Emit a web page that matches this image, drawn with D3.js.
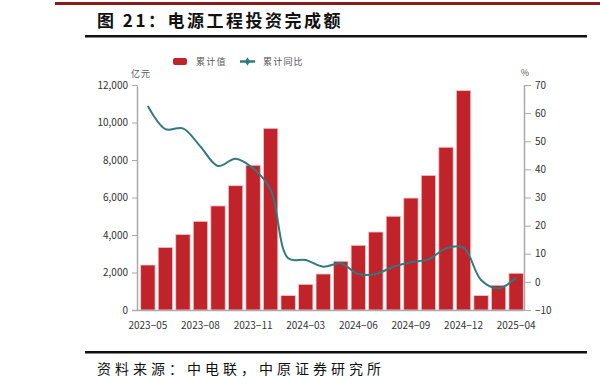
<!DOCTYPE html>
<html>
<head>
<meta charset="utf-8">
<script src="https://cdn.jsdelivr.net/npm/d3@7"></script>
<style>
  body { margin: 0; background: #fff; }
  svg { display: block; }
</style>
</head>
<body>
<svg id="chart" width="600" height="389"></svg>
<script>
const months = ['2023-05', '2023-06', '2023-07', '2023-08', '2023-09', '2023-10', '2023-11', '2023-12',
  '2024-02', '2024-03', '2024-04', '2024-05', '2024-06', '2024-07', '2024-08', '2024-09', '2024-10', '2024-11', '2024-12',
  '2025-02', '2025-03', '2025-04']
// 累计值, 亿元
const cumValue = [2400, 3340, 4030, 4730, 5550, 6630, 7720, 9690,
  770, 1370, 1920, 2600, 3450, 4160, 5000, 5970, 7180, 8680, 11700,
  770, 1320, 1960]
// 累计同比, %
const cumYoY = [62.5, 54.3, 54.6, 48.1, 41.2, 43.8, 40.4, 32.7,
  8.4, 7.8, 5.4, 6.6, 2.8, 2.8, 5.4, 7.0, 8.0, 11.9, 12.2,
  0.7, -2.3, 1.5]
const leftTicks = [0, 2000, 4000, 6000, 8000, 10000, 12000]
const rightTicks = [-10, 0, 10, 20, 30, 40, 50, 60, 70]

const FONT = '"Noto Sans CJK SC", "Liberation Sans", sans-serif'
const BAR = '#c1232b'
const LINE = '#2e7a80'
const AXIS = '#aaaaaa'

const svg = d3.select('#chart').style('font-family', FONT)

// header and footer rules
svg.append('rect').attr('x', 55).attr('y', 2).attr('width', 545).attr('height', 3).attr('fill', '#8b1a1a')
svg.append('text').attr('x', 97).attr('y', 27)
    .style('font-size', '17px').style('font-weight', 'bold').style('letter-spacing', '2.5px').attr('fill', '#111')
    .text('图 21：电源工程投资完成额')
svg.append('rect').attr('x', 85).attr('y', 35).attr('width', 502).attr('height', 2.5).attr('fill', '#111')
svg.append('rect').attr('x', 85).attr('y', 351).attr('width', 502).attr('height', 2.5).attr('fill', '#111')
svg.append('text').attr('x', 97).attr('y', 374)
    .style('font-size', '14px').style('letter-spacing', '4px').attr('fill', '#111')
    .text('资料来源：中电联，中原证券研究所')

const plotL = 137, plotR = 524, plotT = 85, plotB = 310

const x = d3.scaleBand().domain(months).range([plotL, plotR + 3]).paddingInner(0.18).paddingOuter(0.21)
const y = d3.scaleLinear().domain([0, 12000]).range([plotB, plotT])
const y2 = d3.scaleLinear().domain([-10, 70]).range([plotB, plotT])

// bars
svg.append('g').selectAll('rect').data(months).join('rect')
    .attr('x', (d) => x(d))
    .attr('y', (d, i) => y(cumValue[i]))
    .attr('width', x.bandwidth())
    .attr('height', (d, i) => y(0) - y(cumValue[i]))
    .attr('fill', BAR)
    .attr('stroke', '#f0c8ca')
    .attr('stroke-width', 0.8)

// line
const line = d3.line()
    .x((d, i) => x(months[i]) + x.bandwidth() / 2)
    .y((d) => y2(d))
    .curve(d3.curveCatmullRom.alpha(0.5))
svg.append('path').datum(cumYoY)
    .attr('d', line)
    .attr('fill', 'none')
    .attr('stroke', LINE)
    .attr('stroke-width', 2)

// axes
const styleAxis = (g) => {
  g.select('.domain').attr('stroke', AXIS).attr('stroke-width', 1.5)
  g.selectAll('.tick line').attr('stroke', AXIS)
  g.selectAll('.tick text').attr('fill', '#333').style('font-size', '10px').style('font-family', FONT)
}

svg.append('g').attr('transform', `translate(${plotL},0)`)
    .call(d3.axisLeft(y).tickValues(leftTicks).tickSize(5).tickSizeOuter(0).tickPadding(4).tickFormat(d3.format(',')))
    .call(styleAxis)

svg.append('g').attr('transform', `translate(${plotR},0)`)
    .call(d3.axisRight(y2).tickValues(rightTicks).tickSize(7).tickSizeOuter(0).tickPadding(4))
    .call(styleAxis)
    .call((g) => g.selectAll('.tick text').text((d) => d < 0 ? '−' + Math.abs(d) : d))

const xLabels = months.filter((d, i) => i % 3 === 0)
svg.append('g').attr('transform', `translate(0,${plotB})`)
    .call(d3.axisBottom(x).tickValues(xLabels).tickSize(0).tickPadding(12).tickFormat((d) => d.replace('-', '−')))
    .call(styleAxis)
    .call((g) => g.select('.domain').attr('d', `M${plotL - 5},0.5H${plotR}`))

svg.append('text').attr('x', 141).attr('y', 77).attr('text-anchor', 'middle')
    .style('font-size', '9px').style('letter-spacing', '1px').attr('fill', '#555').text('亿元')
svg.append('text').attr('x', 525).attr('y', 76).attr('text-anchor', 'middle')
    .style('font-size', '9px').attr('fill', '#555').text('%')

// legend
const legend = svg.append('g').style('font-size', '9px').style('letter-spacing', '1.2px')
legend.append('rect').attr('x', 173).attr('y', 58).attr('width', 14).attr('height', 7).attr('rx', 2).attr('fill', BAR)
legend.append('text').attr('x', 196).attr('y', 65).attr('fill', '#555').text('累计值')
legend.append('line').attr('x1', 240).attr('x2', 255).attr('y1', 61.5).attr('y2', 61.5)
    .attr('stroke', LINE).attr('stroke-width', 2.5)
legend.append('path').attr('d', d3.symbol(d3.symbolDiamond, 22)()).attr('transform', 'translate(247.5,61.5)').attr('fill', LINE)
legend.append('text').attr('x', 263).attr('y', 65).attr('fill', '#555').text('累计同比')
</script>
</body>
</html>
